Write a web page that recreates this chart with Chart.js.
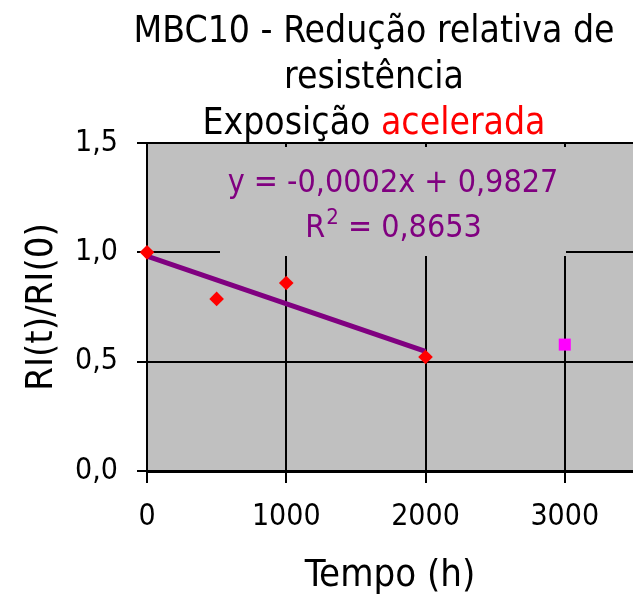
<!DOCTYPE html>
<html>
<head>
<meta charset="utf-8">
<script src="https://cdn.jsdelivr.net/npm/chart.js@4.4.0/dist/chart.umd.min.js"></script>
<style>
  html, body { margin: 0; padding: 0; background: #fff; overflow: hidden; }
  canvas { display: block; }
</style>
</head>
<body>
<canvas id="chart" width="633" height="597"></canvas>
<script>
const FONT = "'DejaVu Sans Condensed', 'DejaVu Sans', sans-serif";

// data
const hours = [0, 500, 1000, 2000];
const ratio = [1.0, 0.787, 0.86, 0.521];
const extraHours = [3000];
const extraRatio = [0.578];

const xTicks = [0, 1000, 2000, 3000];
const yTicks = [0, 0.5, 1.0, 1.5];
const yTickLabels = ['0,0', '0,5', '1,0', '1,5'];

const titleLines = ['MBC10 - Redução relativa de', 'resistência'];
const titleLast = ['Exposição ', 'acelerada'];
const eqLine = 'y = -0,0002x + 0,9827';
const r2Value = ' = 0,8653';

// linear trend over the red points
function fitLine(xs, ys) {
  const n = xs.length;
  const mx = xs.reduce((a, b) => a + b, 0) / n;
  const my = ys.reduce((a, b) => a + b, 0) / n;
  let sxy = 0, sxx = 0;
  for (let i = 0; i < n; i++) {
    sxy += (xs[i] - mx) * (ys[i] - my);
    sxx += (xs[i] - mx) * (xs[i] - mx);
  }
  const b = sxy / sxx;
  return { slope: b, icpt: my - b * mx };
}
const fit = fitLine(hours, ratio);
const trendX = [Math.min(...hours), Math.max(...hours)];

const bgPlugin = {
  id: 'plotBg',
  beforeDraw(chart) {
    const { ctx, chartArea: a } = chart;
    ctx.save();
    ctx.fillStyle = '#c0c0c0';
    ctx.fillRect(a.left, a.top, a.right - a.left, a.bottom - a.top);
    ctx.restore();
  }
};

// trendline label box (covers grid like the original)
const eqPlugin = {
  id: 'eqLabel',
  beforeDatasetsDraw(chart) {
    const { ctx, chartArea: a } = chart;
    const left = a.left + 73, right = a.left + 419;
    const top = a.top + 4, bottom = a.top + 113;
    ctx.save();
    ctx.fillStyle = '#c0c0c0';
    ctx.fillRect(left, top, right - left, bottom - top);
    const cx = (left + right) / 2;
    ctx.fillStyle = '#800080';
    ctx.textBaseline = 'alphabetic';
    ctx.textAlign = 'center';
    ctx.font = '32px ' + FONT;
    ctx.fillText(eqLine, cx, a.top + 49);
    // R² line
    ctx.textAlign = 'left';
    const wR = ctx.measureText('R').width;
    const wV = ctx.measureText(r2Value).width;
    ctx.font = '22px ' + FONT;
    const w2 = ctx.measureText('2').width;
    const x0 = cx - (wR + w2 + wV) / 2;
    const by = a.top + 94;
    ctx.font = '32px ' + FONT;
    ctx.fillText('R', x0, by);
    ctx.font = '22px ' + FONT;
    ctx.fillText('2', x0 + wR + 1, by - 13);
    ctx.font = '32px ' + FONT;
    ctx.fillText(r2Value, x0 + wR + w2 + 1, by);
    ctx.restore();
  }
};

const titlePlugin = {
  id: 'twoColourTitle',
  afterDraw(chart) {
    const { ctx } = chart;
    const cx = 374;
    ctx.save();
    ctx.font = '37px ' + FONT;
    ctx.textBaseline = 'alphabetic';
    ctx.textAlign = 'center';
    ctx.fillStyle = '#000';
    ctx.fillText(titleLines[0], cx, 42);
    ctx.fillText(titleLines[1], cx, 88);
    ctx.textAlign = 'left';
    const w1 = ctx.measureText(titleLast[0]).width;
    const w2 = ctx.measureText(titleLast[1]).width;
    const x0 = cx - (w1 + w2) / 2;
    ctx.fillText(titleLast[0], x0, 134);
    ctx.fillStyle = '#ff0000';
    ctx.fillText(titleLast[1], x0 + w1, 134);
    ctx.restore();
  }
};

new Chart(document.getElementById('chart'), {
  type: 'scatter',
  data: {
    datasets: [
      {
        label: 'acelerada',
        data: hours.map((h, i) => ({ x: h, y: ratio[i] })),
        pointStyle: 'rectRot',
        pointRadius: 7.3,
        backgroundColor: '#ff0000',
        borderWidth: 0,
        clip: false,
        order: 0
      },
      {
        label: '3000 h',
        data: extraHours.map((h, i) => ({ x: h, y: extraRatio[i] })),
        pointStyle: 'rect',
        pointRadius: 8.5,
        backgroundColor: '#ff00ff',
        borderWidth: 0,
        clip: false,
        order: 0
      },
      {
        type: 'line',
        label: 'Linear',
        data: trendX.map(x => ({ x: x, y: fit.icpt + fit.slope * x })),
        borderColor: '#800080',
        borderWidth: 5,
        pointRadius: 0,
        fill: false,
        order: 1
      }
    ]
  },
  options: {
    responsive: false,
    animation: false,
    layout: { autoPadding: false, padding: { top: 143, left: 0, right: 0, bottom: 0 } },
    plugins: {
      legend: { display: false },
      tooltip: { enabled: false }
    },
    scales: {
      x: {
        type: 'linear',
        min: 0,
        max: 3490,
        afterFit: s => { s.height = 126; s.paddingLeft = 0; s.paddingRight = 0; },
        afterBuildTicks: s => { s.ticks = xTicks.map(v => ({ value: v })); },
        ticks: {
          callback: v => String(v),
          font: { family: FONT, size: 30 },
          color: '#000',
          padding: 16,
          maxRotation: 0
        },
        grid: { color: '#000', lineWidth: 2, tickLength: 12 },
        border: { color: '#000', width: 3 },
        title: {
          display: true,
          text: 'Tempo (h)',
          color: '#000',
          font: { family: FONT, size: 38, lineHeight: 1 },
          padding: { top: 0, bottom: 2 }
        }
      },
      y: {
        min: 0,
        max: 1.5,
        afterFit: s => { s.width = 147; s.paddingTop = 0; s.paddingBottom = 0; },
        afterBuildTicks: s => { s.ticks = yTicks.map(v => ({ value: v })); },
        ticks: {
          callback: v => yTickLabels[yTicks.indexOf(v)],
          font: { family: FONT, size: 30 },
          color: '#000',
          padding: 19
        },
        grid: { color: '#000', lineWidth: 2, tickLength: 10 },
        border: { color: '#000', width: 2 },
        title: {
          display: true,
          text: 'RI(t)/RI(0)',
          color: '#000',
          font: { family: FONT, size: 38, lineHeight: 1 },
          padding: { top: 23, bottom: 0 }
        }
      }
    }
  },
  plugins: [bgPlugin, eqPlugin, titlePlugin]
});
</script>
</body>
</html>
